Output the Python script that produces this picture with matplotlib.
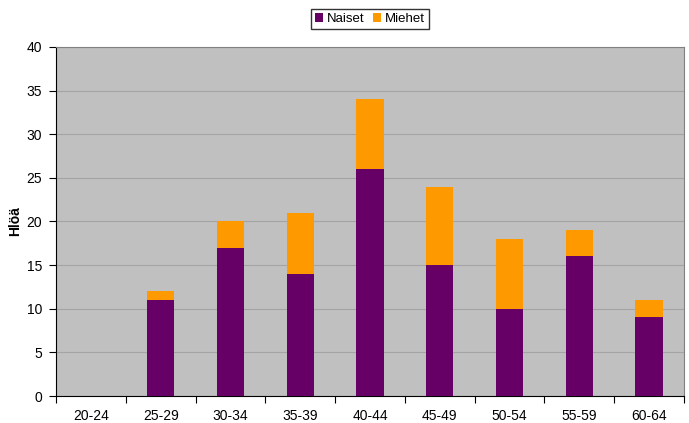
import matplotlib.pyplot as plt
import numpy as np

plt.rcParams['font.family'] = ['Liberation Sans', 'DejaVu Sans']

categories = ["20-24", "25-29", "30-34", "35-39", "40-44", "45-49", "50-54", "55-59", "60-64"]
naiset = [0, 11, 17, 14, 26, 15, 10, 16, 9]
miehet = [0, 1, 3, 7, 8, 9, 8, 3, 2]

fig = plt.figure(figsize=(6.89, 4.23), dpi=100)
ax = fig.add_axes([0.0813, 0.0638, 0.9114, 0.8252])
ax.set_facecolor("#C0C0C0")

x = np.arange(len(categories))
w = 0.39
ax.bar(x, naiset, w, color="#660066", label="Naiset", zorder=3)
ax.bar(x, miehet, w, bottom=naiset, color="#FF9900", label="Miehet", zorder=3)

ax.set_xlim(-0.5, len(categories) - 0.5)
ax.set_ylim(0, 40)
ax.set_yticks(range(0, 41, 5))
ax.yaxis.grid(True, color="#A4A4A4", linewidth=0.8, zorder=0)

# tick marks between categories, labels centred
ax.set_xticks(np.arange(-0.5, len(categories), 1))
ax.set_xticklabels([])
ax.set_xticks(x, minor=True)
ax.set_xticklabels(categories, minor=True)
ax.tick_params(axis="x", which="minor", length=0, labelsize=10, pad=9)
ax.tick_params(axis="x", which="major", length=5, direction="out")
ax.tick_params(axis="y", length=5, direction="out", labelsize=10, pad=5)

for s in ["top", "right"]:
    ax.spines[s].set_color("#808080")
ax.spines["left"].set_color("black")
ax.spines["bottom"].set_color("black")

ax.set_ylabel("Hlöä", fontweight="bold", fontsize=10, labelpad=3)

fig.legend(loc="center", bbox_to_anchor=(0.537, 0.955), ncol=2, fontsize=9.5,
           frameon=True, fancybox=False, edgecolor="black", handlelength=0.6,
           handleheight=0.6, handletextpad=0.3, columnspacing=0.7, borderpad=0.3,
           borderaxespad=0)

fig.savefig("out.png", dpi=100)
